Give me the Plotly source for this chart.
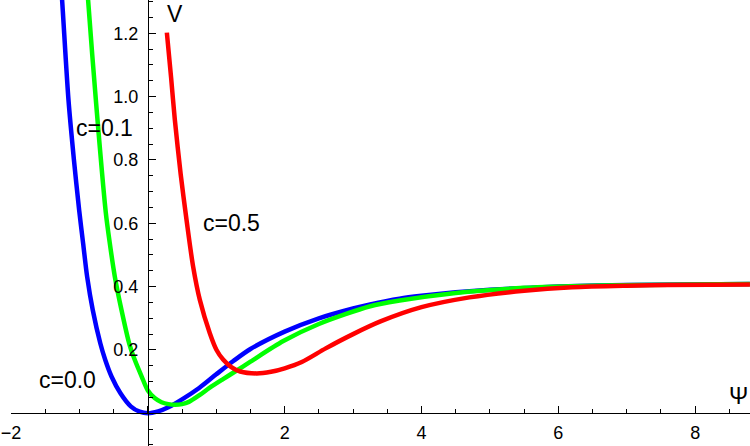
import plotly.graph_objects as go

# ---- data ----
psi_c00 = [-1.30, -1.253, -1.16, -1.08, -1.004, -0.946, -0.887, -0.805, -0.695, -0.622, -0.531,
           -0.40, -0.25, -0.12, 0.0, 0.15, 0.30, 0.50, 0.75, 1.0, 1.25, 1.5, 2.0, 2.5, 3.0,
           3.25, 3.68, 4.0, 4.5, 5.0, 6.0, 7.0, 8.8]
v_c00 = [1.45, 1.305, 0.99, 0.80, 0.642, 0.537, 0.431, 0.326, 0.221, 0.168, 0.116,
         0.063, 0.022, 0.005, 0.0, 0.006, 0.019, 0.044, 0.080, 0.123, 0.165, 0.203, 0.258, 0.300, 0.331,
         0.344, 0.362, 0.371, 0.382, 0.390, 0.400, 0.405, 0.408]

psi_c01 = [-0.90, -0.873, -0.76, -0.615, -0.556, -0.482, -0.385, -0.273, -0.19, -0.09, 0.0,
           0.10, 0.20, 0.30, 0.40, 0.50, 0.60, 0.76, 0.90, 1.10, 1.247, 1.5, 1.98, 2.5, 3.25,
           3.68, 4.5, 5.5, 6.5, 8.8]
v_c01 = [1.40, 1.305, 0.99, 0.635, 0.537, 0.431, 0.326, 0.221, 0.168, 0.116, 0.072,
         0.048, 0.035, 0.029, 0.027, 0.029, 0.036, 0.058, 0.080, 0.108, 0.128, 0.163, 0.228, 0.282, 0.338,
         0.356, 0.380, 0.396, 0.403, 0.408]

psi_c05 = [0.278, 0.34, 0.395, 0.48, 0.566, 0.662, 0.76, 0.906, 1.004, 1.10, 1.22, 1.35,
           1.59, 1.80, 2.0, 2.25, 2.6, 3.0, 3.4, 4.0, 4.7, 5.5, 6.2, 7.0, 7.6, 8.8]
v_c05 = [1.202, 1.06, 0.926, 0.755, 0.610, 0.463, 0.358, 0.253, 0.200, 0.170, 0.146, 0.132,
         0.126, 0.131, 0.142, 0.162, 0.205, 0.250, 0.290, 0.335, 0.366, 0.387, 0.398, 0.403, 0.405, 0.407]

curve_names = ["c=0.0", "c=0.1", "c=0.5"]
curve_colors = ["#0000FF", "#00FF00", "#FF0000"]

x_tickvals = [-2, 0, 2, 4, 6, 8]
x_ticktext = ["\u22122", "", "2", "4", "6", "8"]
y_tickvals = [0.2, 0.4, 0.6, 0.8, 1.0, 1.2]
y_ticktext = ["0.2", "0.4", "0.6", "0.8", "1.0", "1.2"]

# ---- figure ----
W, H = 750, 446
x_range = [-2.0, 8.8012]
y_range = [-0.1033, 1.3050]
x_domain_left = 11 / W

fig = go.Figure()
for xs, ys, name, col in zip([psi_c00, psi_c01, psi_c05], [v_c00, v_c01, v_c05], curve_names, curve_colors):
    fig.add_trace(go.Scatter(x=xs, y=ys, mode="lines", name=name,
                             line=dict(color=col, width=4.5, shape="spline", smoothing=0.8)))

# positions of the crossing axes (paper coords)
x0_paper = x_domain_left + (0 - x_range[0]) / (x_range[1] - x_range[0]) * (1 - x_domain_left)
y0_paper = (0 - y_range[0]) / (y_range[1] - y_range[0])

tick_font = dict(family="Liberation Sans, Arial, sans-serif", size=18, color="black")
lab_font = dict(family="Liberation Sans, Arial, sans-serif", size=23, color="black")

fig.update_layout(
    width=W, height=H, margin=dict(l=0, r=0, t=0, b=0, autoexpand=False),
    plot_bgcolor="white", paper_bgcolor="white", showlegend=False,
    xaxis=dict(range=x_range, domain=[x_domain_left, 1], anchor="free", position=y0_paper,
               automargin=False,
               showgrid=False, zeroline=False, showline=True, linecolor="black", linewidth=1,
               ticks="inside", ticklen=7, tickwidth=1, tickcolor="black",
               tickmode="array", tickvals=x_tickvals, ticktext=x_ticktext, tickfont=tick_font,
               ticklabelstandoff=3,
               minor=dict(tickmode="linear", tick0=0, dtick=0.5, ticks="inside", ticklen=4,
                          tickcolor="black", showgrid=False)),
    yaxis=dict(range=y_range, domain=[0, 1], anchor="free", position=x0_paper,
               automargin=False,
               showgrid=False, zeroline=False, showline=True, linecolor="black", linewidth=1,
               ticks="inside", ticklen=7, tickwidth=1, tickcolor="black",
               tickmode="array", tickvals=y_tickvals, ticktext=y_ticktext, tickfont=tick_font,
               ticklabelstandoff=6,
               minor=dict(tickmode="linear", tick0=0, dtick=0.05, ticks="inside", ticklen=4,
                          tickcolor="black", showgrid=False)),
)

# text labels (pixel positions -> paper)
labels = [("c=0.0", 67.5, 380), ("c=0.1", 104, 128), ("c=0.5", 231.7, 223),
          ("V", 175, 14), ("\u03a8", 738, 396)]
for txt, px, py in labels:
    fig.add_annotation(text=txt, x=px / W, y=1 - py / H, xref="paper", yref="paper",
                       showarrow=False, xanchor="center", yanchor="middle", font=lab_font)

fig.write_html("out.html")
